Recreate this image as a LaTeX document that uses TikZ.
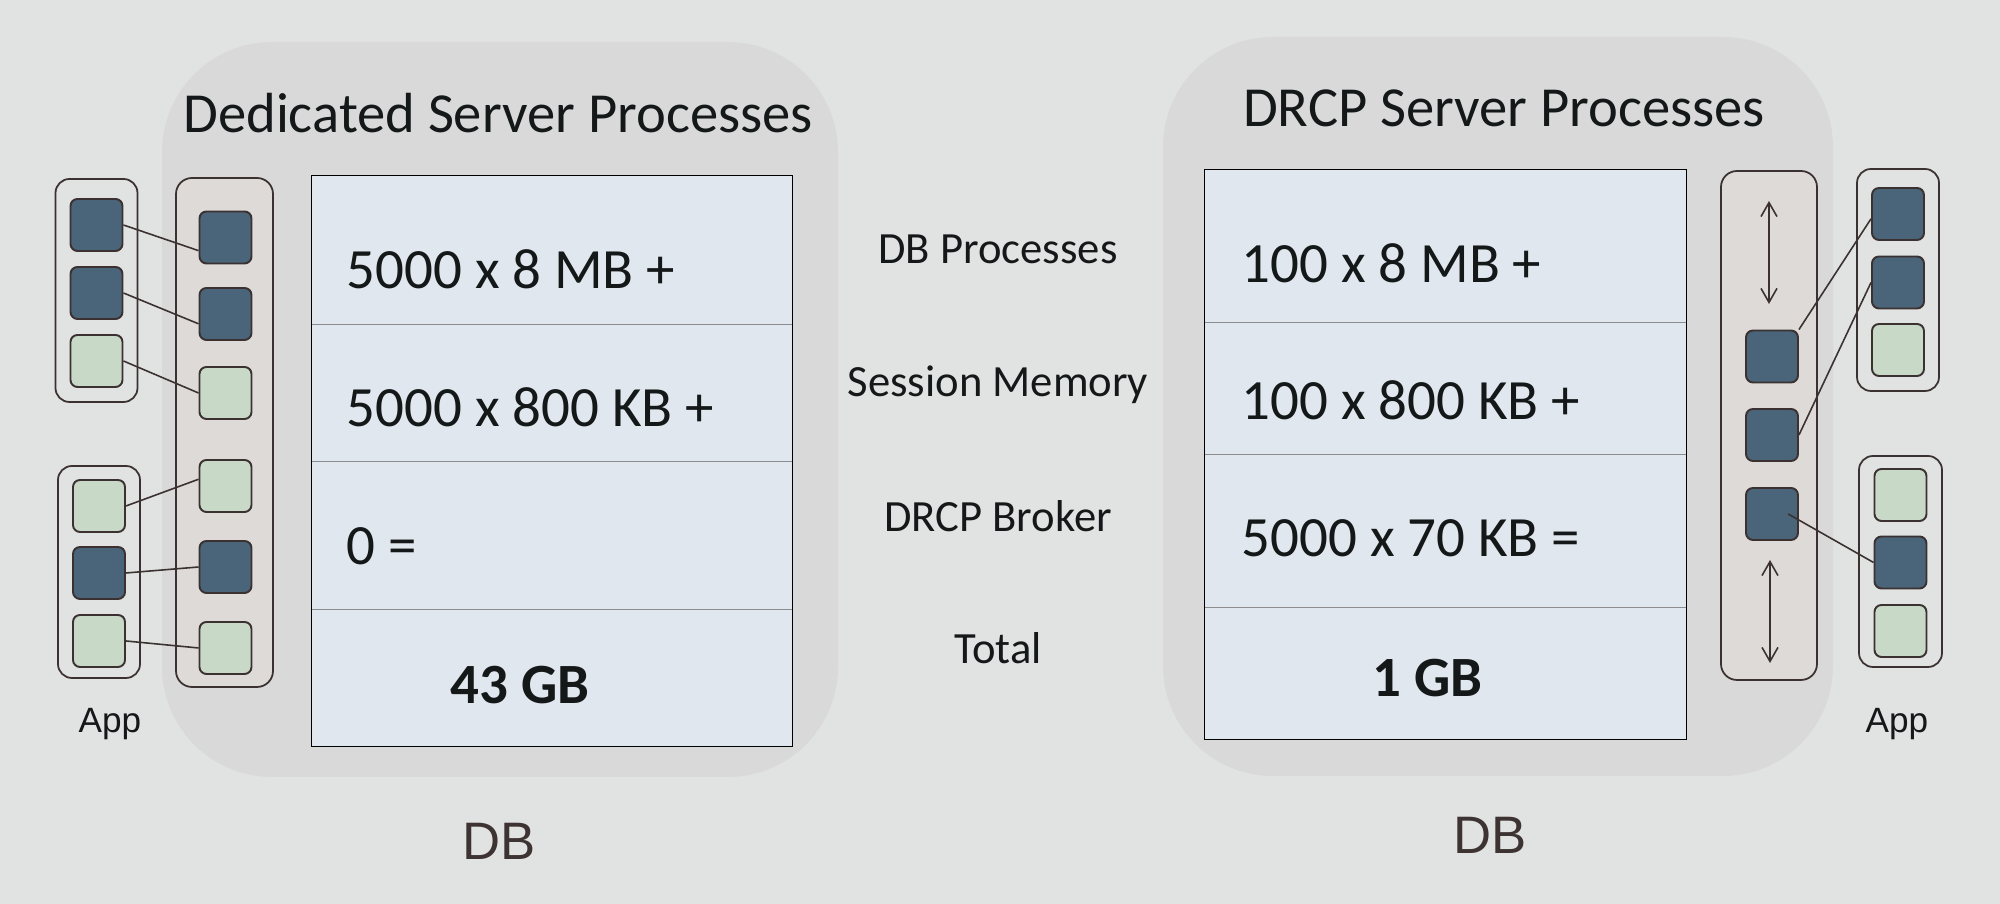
\documentclass[tikz,border=0pt]{standalone}
\usepackage{fontspec}
\setmainfont{Carlito}
\newfontfamily\labelfont{Liberation Sans}
\usetikzlibrary{arrows.meta,positioning,calc}
\definecolor{canvas}{HTML}{E1E3E2}
\definecolor{panelgray}{HTML}{D9D9D9}
\definecolor{tablefill}{HTML}{E0E7EE}
\definecolor{poolfill}{HTML}{DEDAD8}
\definecolor{busyblue}{HTML}{4A6479}
\definecolor{idlegreen}{HTML}{C8D9C8}
\definecolor{outline}{HTML}{3B3131}
\definecolor{rowrule}{HTML}{8C8C8C}
\definecolor{dbtext}{HTML}{3D3333}
\definecolor{inktext}{HTML}{141818}
\tikzset{
  dbpanel/.style={fill=panelgray, rounded corners=11mm, inner sep=0pt},
  memrow/.style={fill=tablefill, inner sep=0pt, minimum width=48mm},
  divider/.style={draw=rowrule, line width=0.4pt},
  tableedge/.style={draw=black, line width=0.4pt},
  memtext/.style={font=\fontsize{16.2}{19}\selectfont, text=inktext, anchor=base west, inner sep=0pt},
  totaltext/.style={memtext, font=\fontsize{16.2}{19}\selectfont\bfseries},
  paneltitle/.style={font=\fontsize{16.1}{19}\selectfont, text=inktext, anchor=base, inner sep=0pt},
  rowlabel/.style={font=\fontsize{12.7}{15}\selectfont, text=inktext, anchor=base, inner sep=0pt},
  dblabel/.style={font=\labelfont\fontsize{15}{18}\selectfont, text=dbtext, anchor=base, inner sep=0pt},
  applabel/.style={font=\labelfont\fontsize{10}{12}\selectfont, text=inktext, anchor=base, inner sep=0pt},
  appbox/.style={draw=outline, line width=0.5pt, rounded corners=1.4mm, minimum width=8.2mm, inner sep=0pt},
  poolbox/.style={appbox, fill=poolfill, rounded corners=1.6mm, minimum width=9.7mm},
  sess/.style={draw=outline, line width=0.55pt, rounded corners=0.7mm, minimum size=5.2mm, inner sep=0pt},
  busysess/.style={sess, fill=busyblue},
  idlesess/.style={sess, fill=idlegreen},
  link/.style={draw=outline, line width=0.45pt},
  growarr/.style={{Straight Barb[length=1.4mm,width=1.6mm]}-{Straight Barb[length=1.4mm,width=1.6mm]}, draw=outline, line width=0.45pt}
}
\begin{document}
\begin{tikzpicture}[x=0.1mm,y=-0.1mm]
  \fill[canvas] (0,0) rectangle (2000,904);
  \useasboundingbox (0,0) rectangle (2000,904);

  % database panels
  \node[dbpanel, minimum width=67.6mm, minimum height=73.5mm] (dedpanel) at (500,409.5) {};
  \node[dbpanel, minimum width=67mm, minimum height=73.9mm] (drcppanel) at (1498,406.5) {};
  \node[paneltitle] (dedtitle) at (498,133) {Dedicated Server Processes};
  \node[paneltitle] (drcptitle) at (1504,127) {DRCP Server Processes};

  % memory tables
  \foreach \n/\cy/\h in {1/250/14.8,2/392.5/13.7,3/535/14.8,4/677.5/13.7}
    \node[memrow, minimum height=\h mm] (dl\n) at (552,\cy) {};
  \foreach \n/\cy/\h in {1/246/15.2,2/388/13.2,3/530.5/15.3,4/673/13.2}
    \node[memrow, minimum height=\h mm, minimum width=48.1mm] (dr\n) at (1445.5,\cy) {};
  \foreach \n in {1,2,3} {
    \draw[divider] (dl\n.south west) -- (dl\n.south east);
    \draw[divider] (dr\n.south west) -- (dr\n.south east);
  }
  \draw[tableedge] (dl1.north west) rectangle (dl4.south east);
  \draw[tableedge] (dr1.north west) rectangle (dr4.south east);

  \node[memtext] (dlt1) at (346,289) {5000 x 8 MB +};
  \node[memtext] (dlt2) at (346,427) {5000 x 800 KB +};
  \node[memtext] (dlt3) at (346,565) {0 =};
  \node[totaltext] (dlt4) at (450,704) {43 GB};
  \node[memtext] (drt1) at (1241,283) {100 x 8 MB +};
  \node[memtext] (drt2) at (1241,420) {100 x 800 KB +};
  \node[memtext] (drt3) at (1241,557) {5000 x 70 KB =};
  \node[totaltext] (drt4) at (1372,696.5) {1 GB};

  % row names between the tables
  \node[rowlabel] (lbproc) at (998,263.5) {DB Processes};
  \node[rowlabel] (lbsess) at (998,397) {Session Memory};
  \node[rowlabel] (lbbroker) at (998,531.5) {DRCP Broker};
  \node[rowlabel] (lbtotal) at (998,663.5) {Total};

  % dedicated side
  \node[appbox, minimum height=22.3mm] (appA) at (96.5,290.5) {};
  \node[appbox, minimum height=21.2mm] (appB) at (99,572) {};
  \node[poolbox, minimum height=50.9mm] (dedpool) at (224.5,432.5) {};
  \node[busysess] (a1) at (96.5,225) {};
  \node[busysess] (a2) at (96.5,293) {};
  \node[idlesess] (a3) at (96.5,361) {};
  \node[idlesess] (b1) at (99,506) {};
  \node[busysess] (b2) at (99,573) {};
  \node[idlesess] (b3) at (99,641) {};
  \node[busysess] (s1) at (225.5,237.5) {};
  \node[busysess] (s2) at (225.5,314) {};
  \node[idlesess] (s3) at (225.5,393) {};
  \node[idlesess] (s4) at (225.5,486) {};
  \node[busysess] (s5) at (225.5,567) {};
  \node[idlesess] (s6) at (225.5,648) {};
  \draw[link] (a1.east) -- (s1.206);
  \draw[link] (a2.east) -- (s2.200);
  \draw[link] (a3.east) -- (s3.west);
  \draw[link] (b1.east) -- (s4.166);
  \draw[link] (b2.east) -- (s5.west);
  \draw[link] (b3.east) -- (s6.west);

  % pooled side
  \node[poolbox, minimum height=50.9mm, minimum width=9.6mm] (drcppool) at (1769,425.5) {};
  \node[appbox, minimum height=22.2mm] (appC) at (1898,280) {};
  \node[appbox, minimum height=21.1mm, minimum width=8.3mm] (appD) at (1900.5,561.5) {};
  \node[busysess] (r1) at (1772,356.5) {};
  \node[busysess] (r2) at (1772,435) {};
  \node[busysess] (r3) at (1772,514) {};
  \node[busysess] (p1) at (1898,214) {};
  \node[busysess] (p2) at (1898,282.5) {};
  \node[idlesess] (p3) at (1898,350) {};
  \node[idlesess] (q1) at (1900.5,495) {};
  \node[busysess] (q2) at (1900.5,562.5) {};
  \node[idlesess] (q3) at (1900.5,631) {};
  \coordinate (growtopA) at (1769,201);
  \coordinate (growtopB) at (1769,304);
  \coordinate (growlowA) at (1770,560);
  \coordinate (growlowB) at (1770,663);
  \draw[growarr] (growtopA) -- (growtopB);
  \draw[growarr] (growlowA) -- (growlowB);
  \draw[link] (r1.north east) -- (p1.190);
  \draw[link] (r2.east) -- (p2.west);
  \draw[link] ($(r3.center)!0.6!(r3.east)$) -- (q2.west);

  % captions
  \node[applabel] (appcapL) at (110,733) {App};
  \node[applabel] (appcapR) at (1897,733) {App};
  \node[dblabel] (dbcapL) at (499,860) {DB};
  \node[dblabel] (dbcapR) at (1490,854) {DB};
\end{tikzpicture}
\end{document}
